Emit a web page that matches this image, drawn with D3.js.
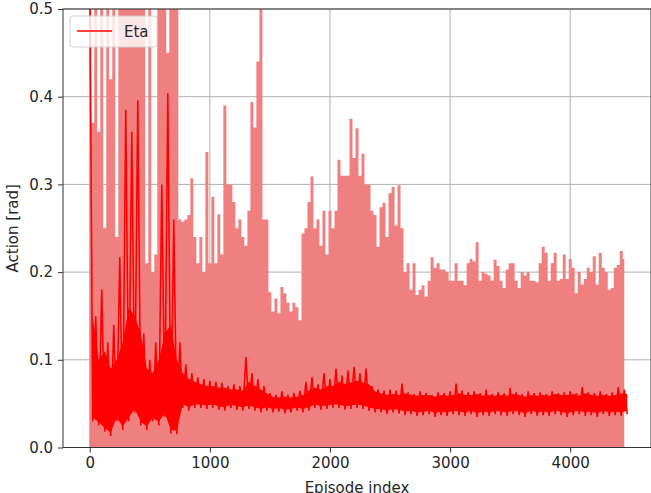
<!DOCTYPE html>
<html>
<head>
  <meta charset="utf-8" />
  <title>Eta action</title>
  <style type="text/css">
    body { margin: 0; background: #fff; }
    text { font-family: 'DejaVu Sans', sans-serif; fill: #262626; }
  </style>
</head>
<body>
  <div id="graph"></div>
  <script src="https://d3js.org/d3.v7.min.js"></script>
  <script>
// episode step of the upper bound (one value every 25 episodes, ep 0..4450)
var upperStep = 25;
var upperVals = [
  0.6, 0.37, 0.6, 0.36, 0.6, 0.25, 0.6, 0.42, 0.6, 0.24,
  0.6, 0.6, 0.6, 0.6, 0.6, 0.6, 0.6, 0.6, 0.6, 0.21,
  0.6, 0.2, 0.22, 0.6, 0.6, 0.6, 0.45, 0.6, 0.6, 0.6,
  0.26, 0.257, 0.26, 0.265, 0.307, 0.24, 0.21, 0.24, 0.2, 0.337,
  0.21, 0.286, 0.21, 0.266, 0.22, 0.39, 0.3, 0.3, 0.28, 0.25,
  0.26, 0.24, 0.23, 0.27, 0.394, 0.365, 0.44, 0.6, 0.26, 0.26,
  0.177, 0.155, 0.17, 0.153, 0.183, 0.176, 0.165, 0.155, 0.165, 0.16,
  0.145, 0.244, 0.25, 0.28, 0.309, 0.25, 0.26, 0.23, 0.27, 0.22,
  0.27, 0.25, 0.27, 0.328, 0.31, 0.31, 0.31, 0.375, 0.33, 0.364,
  0.31, 0.335, 0.3, 0.3, 0.27, 0.265, 0.229, 0.274, 0.279, 0.24,
  0.29, 0.297, 0.253, 0.299, 0.25, 0.2, 0.21, 0.18, 0.21, 0.174,
  0.18, 0.185, 0.172, 0.19, 0.217, 0.205, 0.21, 0.203, 0.203, 0.2,
  0.19, 0.19, 0.21, 0.19, 0.19, 0.185, 0.21, 0.215, 0.212, 0.234,
  0.19, 0.2, 0.198, 0.196, 0.19, 0.214, 0.207, 0.19, 0.182, 0.203,
  0.21, 0.21, 0.19, 0.182, 0.2, 0.196, 0.2, 0.19, 0.19, 0.188,
  0.21, 0.229, 0.222, 0.19, 0.21, 0.222, 0.19, 0.192, 0.22, 0.192,
  0.215, 0.205, 0.176, 0.2, 0.186, 0.192, 0.205, 0.2, 0.218, 0.186,
  0.222, 0.205, 0.2, 0.18, 0.182, 0.205, 0.208, 0.224, 0.215
];

// Eta line, per bin of 50 episodes: spike peak, top of the dense band, bottom
var etaStep = 50;
var etaHigh = [
  0.55, 0.15, 0.18, 0.12, 0.14, 0.217, 0.385, 0.36, 0.396, 0.13,
  0.1, 0.12, 0.3, 0.404, 0.26, 0.12, 0.095, 0.085, 0.08, 0.078,
  0.076, 0.075, 0.074, 0.07, 0.072, 0.07, 0.103, 0.085, 0.078, 0.07,
  0.062, 0.06, 0.064, 0.06, 0.062, 0.065, 0.075, 0.08, 0.072, 0.085,
  0.078, 0.09, 0.082, 0.088, 0.092, 0.085, 0.09, 0.07, 0.066, 0.065,
  0.066, 0.065, 0.073, 0.063, 0.061, 0.064, 0.062, 0.06, 0.063, 0.062,
  0.064, 0.073, 0.065, 0.063, 0.064, 0.062, 0.066, 0.061, 0.063, 0.062,
  0.068, 0.063, 0.061, 0.064, 0.062, 0.063, 0.061, 0.064, 0.062, 0.063,
  0.064, 0.062, 0.069, 0.063, 0.062, 0.064, 0.061, 0.063, 0.069, 0.066
];
var etaTop = [
  0.15, 0.1, 0.11, 0.09, 0.1, 0.12, 0.16, 0.15, 0.13, 0.09,
  0.085, 0.1, 0.13, 0.14, 0.1, 0.085, 0.078, 0.075, 0.072, 0.07,
  0.07, 0.068, 0.068, 0.066, 0.066, 0.065, 0.075, 0.07, 0.066, 0.062,
  0.058, 0.057, 0.058, 0.057, 0.058, 0.06, 0.065, 0.068, 0.066, 0.07,
  0.07, 0.075, 0.072, 0.074, 0.076, 0.074, 0.072, 0.064, 0.062, 0.06,
  0.061, 0.06, 0.062, 0.06, 0.059, 0.06, 0.06, 0.058, 0.06, 0.059,
  0.06, 0.062, 0.06, 0.06, 0.061, 0.059, 0.06, 0.059, 0.06, 0.059,
  0.061, 0.06, 0.058, 0.06, 0.059, 0.06, 0.059, 0.061, 0.06, 0.06,
  0.061, 0.059, 0.062, 0.06, 0.059, 0.06, 0.059, 0.06, 0.062, 0.061
];
var etaLow = [
  0.03, 0.025, 0.018, 0.013, 0.03, 0.02, 0.03, 0.04, 0.025, 0.02,
  0.03, 0.025, 0.035, 0.016, 0.015, 0.045, 0.042, 0.045, 0.045, 0.044,
  0.045, 0.043, 0.042, 0.045, 0.043, 0.042, 0.044, 0.042, 0.04, 0.042,
  0.04, 0.041, 0.039, 0.04, 0.042, 0.04, 0.042, 0.045, 0.043, 0.044,
  0.045, 0.045, 0.043, 0.044, 0.045, 0.044, 0.042, 0.04, 0.04, 0.038,
  0.04, 0.039, 0.037, 0.038, 0.036, 0.037, 0.038, 0.035, 0.037, 0.036,
  0.038, 0.037, 0.036, 0.038, 0.035, 0.037, 0.036, 0.038, 0.037, 0.036,
  0.038, 0.037, 0.035, 0.038, 0.036, 0.037, 0.036, 0.038, 0.037, 0.035,
  0.037, 0.038, 0.036, 0.037, 0.035, 0.038, 0.036, 0.037, 0.036, 0.038
];

var xTicks = [0, 1000, 2000, 3000, 4000];
var yTicks = [0.0, 0.1, 0.2, 0.3, 0.4, 0.5];

var margin = {top: 9, right: 0, bottom: 45.5, left: 63},
    width = 651 - margin.left - margin.right,
    height = 493 - margin.top - margin.bottom;

var x = d3.scaleLinear().domain([-222.5, 4672.5]).range([0, width]);
var y = d3.scaleLinear().domain([0, 0.5]).range([height, 0]);

var svg = d3.select("#graph").append("svg")
    .attr("width", 651)
    .attr("height", 493)
  .append("g")
    .attr("transform", "translate(" + margin.left + "," + margin.top + ")");

svg.append("clipPath").attr("id", "clip")
  .append("rect").attr("width", width).attr("height", height);

// grid
svg.append("g").selectAll("line").data(xTicks).enter().append("line")
    .attr("x1", function(d) { return x(d); }).attr("x2", function(d) { return x(d); })
    .attr("y1", 0).attr("y2", height)
    .attr("stroke", "#b0b0b0").attr("stroke-width", 1);
svg.append("g").selectAll("line").data(yTicks).enter().append("line")
    .attr("y1", function(d) { return y(d); }).attr("y2", function(d) { return y(d); })
    .attr("x1", 0).attr("x2", width)
    .attr("stroke", "#b0b0b0").attr("stroke-width", 1);

// band from 0 to upper bound
var upper = upperVals.map(function(v, i) { return {ep: i * upperStep, v: v}; });
var area = d3.area()
    .curve(d3.curveStep)
    .x(function(d) { return x(d.ep); })
    .y0(y(0))
    .y1(function(d) { return y(d.v); });

svg.append("path")
    .datum(upper)
    .attr("clip-path", "url(#clip)")
    .attr("fill", "#f08080")
    .attr("d", area);

// dense core of the eta line
var etaBins = etaTop.map(function(t, j) {
  return {ep: j * etaStep + etaStep / 2, top: t, low: etaLow[j]};
});
var core = d3.area()
    .x(function(d) { return x(d.ep); })
    .y0(function(d) { return y(d.low + 0.004); })
    .y1(function(d) { return y(d.top); });

svg.append("path")
    .datum(etaBins)
    .attr("clip-path", "url(#clip)")
    .attr("fill", "#ff0000")
    .attr("d", core);

// eta line, zigzag between bin peak and low
var eta = [];
etaHigh.forEach(function(h, j) {
  eta.push({ep: j * etaStep, v: h});
  eta.push({ep: j * etaStep + etaStep / 2, v: etaLow[j]});
});
eta.push({ep: 4450, v: etaHigh[etaHigh.length - 1]});

var line = d3.line()
    .x(function(d) { return x(d.ep); })
    .y(function(d) { return y(d.v); });

svg.append("path")
    .datum(eta)
    .attr("clip-path", "url(#clip)")
    .attr("fill", "none")
    .attr("stroke", "#ff0000")
    .attr("stroke-width", 1.6)
    .attr("d", line);

// axes
var xAxis = svg.append("g")
    .attr("transform", "translate(0," + height + ")")
    .call(d3.axisBottom(x).tickValues(xTicks).tickSize(5).tickPadding(5).tickFormat(d3.format("d")));
var yAxis = svg.append("g")
    .call(d3.axisLeft(y).tickValues(yTicks).tickSize(5).tickPadding(5).tickFormat(d3.format(".1f")));

[xAxis, yAxis].forEach(function(a) {
  a.select(".domain").remove();
  a.selectAll("line").attr("stroke", "#333");
  a.selectAll("text").attr("font-size", 15).attr("fill", "#262626")
    .style("font-family", "'DejaVu Sans', sans-serif");
});

// frame
svg.append("rect")
    .attr("width", width).attr("height", height)
    .attr("fill", "none").attr("stroke", "#333").attr("stroke-width", 1);

// labels
svg.append("text")
    .attr("x", width / 2).attr("y", height + 45)
    .attr("text-anchor", "middle").attr("font-size", 15)
    .text("Episode index");
svg.append("text")
    .attr("transform", "translate(" + (-45) + "," + (height / 2) + ") rotate(-90)")
    .attr("text-anchor", "middle").attr("font-size", 15)
    .text("Action [rad]");

// legend
var lg = svg.append("g").attr("transform", "translate(7,7)");
lg.append("rect")
    .attr("width", 87).attr("height", 31).attr("rx", 3)
    .attr("fill", "#fff").attr("fill-opacity", 0.8)
    .attr("stroke", "#d0d0d0");
lg.append("line")
    .attr("x1", 7).attr("x2", 42).attr("y1", 15).attr("y2", 15)
    .attr("stroke", "#ff0000").attr("stroke-width", 1.6);
lg.append("text")
    .attr("x", 54).attr("y", 20.5).attr("font-size", 15)
    .text("Eta");
  </script>
</body>
</html>
